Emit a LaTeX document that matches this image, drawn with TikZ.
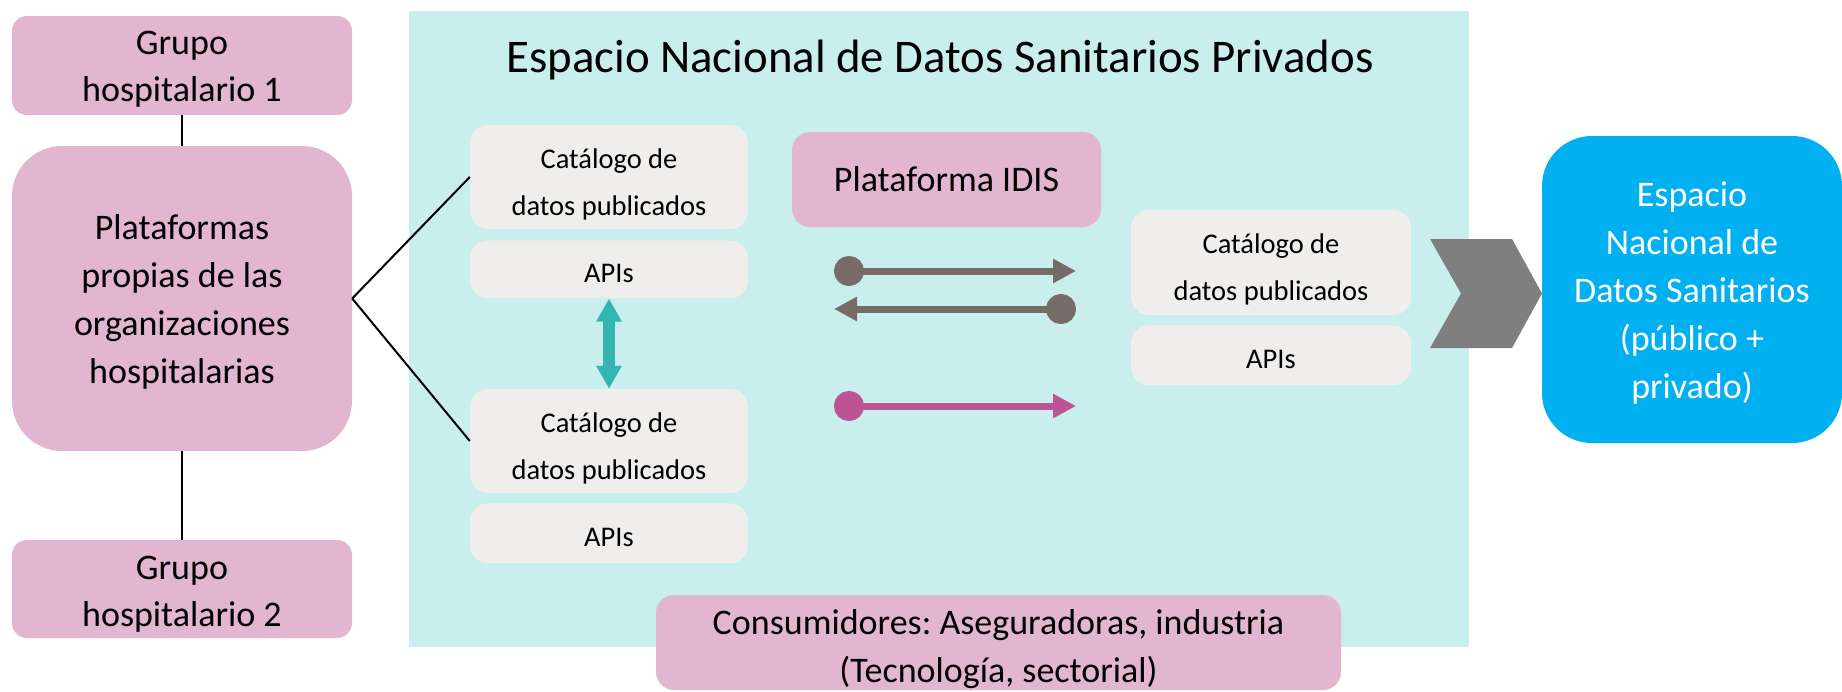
\documentclass[tikz,border=0pt]{standalone}
\usepackage{fontspec}
\setmainfont{Carlito}
\frenchspacing
\usetikzlibrary{positioning}
\usetikzlibrary{arrows.meta}
\definecolor{pinkc}{HTML}{E2B6D1}
\definecolor{cyanc}{HTML}{C8EEEE}
\definecolor{greyc}{HTML}{EFEEEC}
\definecolor{bluec}{HTML}{00B0F0}
\definecolor{arrgrey}{HTML}{776B68}
\definecolor{magc}{HTML}{BC5493}
\definecolor{tealc}{HTML}{34B5B2}
\definecolor{chevc}{HTML}{7F7F7F}

\begin{document}
\begin{tikzpicture}[
  x=1pt,y=-1pt,
  node distance=10pt,
  pinkbox/.style={fill=pinkc,rounded corners=15pt,inner sep=0pt,align=center},
  hosp/.style={pinkbox,minimum width=340pt,text height=71pt,text depth=0pt,font=\fontsize{36}{47}\selectfont},
  greybox/.style={fill=greyc,rounded corners=18pt,inner sep=0pt,align=center,minimum width=278pt,text height=76pt,text depth=0pt,font=\fontsize{28.5}{47}\selectfont},
  apibox/.style={greybox,text height=27pt},
  link/.style={draw=black,line width=2pt},
  dotarrow/.style={line width=7pt,{Circle[length=30pt]}-{Triangle[length=23pt,width=23pt]}}
]
\useasboundingbox (0,0) rectangle (1842,691);

% fondo del espacio privado
\fill[cyanc] (409,11) rectangle (1469,647);
\node[anchor=base,font=\fontsize{46.8}{55}\selectfont] (title) at (940,72) {Espacio Nacional de Datos Sanitarios Privados};

% lado izquierdo
\node[hosp,minimum height=99pt] (g1) at (182,65.5) {Grupo\\hospitalario 1};
\node[hosp,minimum height=305pt,rounded corners=50pt,text height=170pt,font=\fontsize{36}{48}\selectfont] (plat) at (182,298.5) {Plataformas\\propias de las\\organizaciones\\hospitalarias};
\node[hosp,minimum height=98pt,text height=74pt] (g2) at (182,589) {Grupo\\hospitalario 2};

% catalogos
\node[greybox,minimum height=104pt] (cat1) at (609,177) {Catálogo de\\datos publicados};
\node[apibox,minimum height=58pt,below=11pt of cat1] (api1) {APIs};
\node[greybox,minimum height=104pt] (cat2) at (609,441) {Catálogo de\\datos publicados};
\node[apibox,minimum height=60pt,below=of cat2] (api2) {APIs};

\node[pinkbox,minimum width=309pt,minimum height=95pt,rounded corners=18pt,font=\fontsize{36}{43}\selectfont] (idis) at (946.5,179.5) {Plataforma IDIS};

\node[greybox,minimum width=280pt,minimum height=105pt] (cat3) at (1271,262.5) {Catálogo de\\datos publicados};
\node[apibox,minimum width=280pt,minimum height=60pt,below=of cat3] (api3) {APIs};

\node[fill=bluec,text=white,rounded corners=50pt,inner sep=0pt,align=center,minimum width=300pt,minimum height=307pt,text height=217pt,text depth=0pt,font=\fontsize{36}{47.8}\selectfont] (esp) at (1692,289.5) {Espacio\\Nacional de\\Datos Sanitarios\\(público +\\privado)};

\node[pinkbox,minimum width=685pt,minimum height=95pt,rounded corners=18pt,text height=79pt,text depth=0pt,font=\fontsize{36}{47.4}\selectfont] (cons) at (998.5,642.5) {Consumidores: Aseguradoras, industria\\(Tecnología, sectorial)};

% chevron
\fill[chevc] (1430,239) -- (1512,239) -- (1542,293.5) -- (1512,348) -- (1430,348) -- (1461,293.5) -- cycle;

\path[link] (g1) edge (plat)
(plat) edge (g2)
(plat.east) edge (cat1.west)
(plat.east) edge (cat2.west)
;

\draw[tealc,line width=12pt,{Triangle[length=23pt,width=24pt]}-{Triangle[length=23pt,width=24pt]}] (api1) -- (cat2);

\coordinate (a1) at (834,271);
\coordinate (b1) at (1076,271);
\coordinate (a2) at (1076,309);
\coordinate (b2) at (834,309);
\coordinate (a3) at (834,406);
\coordinate (b3) at (1076,406);
\draw[dotarrow,arrgrey] (a1) -- (b1);
\draw[dotarrow,arrgrey] (a2) -- (b2);
\draw[dotarrow,magc] (a3) -- (b3);
\end{tikzpicture}
\end{document}
